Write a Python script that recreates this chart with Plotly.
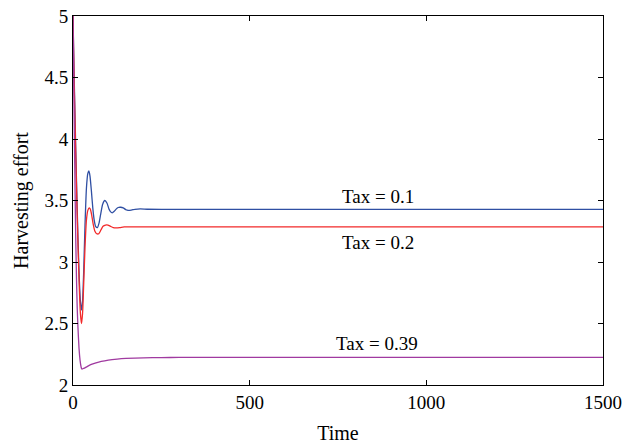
import plotly.graph_objects as go

# Time samples (shared) and series values
t_blue = [0, 3, 6, 10, 14, 18, 21, 24, 27, 30, 34, 38, 42, 45, 48, 52, 56, 60, 64, 69, 74, 79, 84, 90, 96, 102, 106, 111, 116, 122, 128, 135, 142, 150, 156, 165, 175, 190, 210, 250, 300, 400, 600, 1000, 1500]
e_blue = [5.0, 4.55, 4.15, 3.65, 3.2, 2.85, 2.68, 2.61, 2.68, 2.9, 3.3, 3.6, 3.72, 3.74, 3.7, 3.58, 3.44, 3.34, 3.29, 3.28, 3.32, 3.40, 3.47, 3.50, 3.48, 3.43, 3.41, 3.40, 3.41, 3.43, 3.443, 3.445, 3.44, 3.425, 3.42, 3.422, 3.428, 3.432, 3.429, 3.428, 3.428, 3.428, 3.428, 3.428, 3.428]

t_red = [0, 3, 6, 10, 14, 18, 21, 24, 27, 30, 34, 38, 42, 46, 49, 53, 57, 62, 67, 73, 79, 85, 92, 99, 106, 114, 122, 132, 145, 160, 180, 220, 300, 500, 1000, 1500]
e_red = [5.0, 4.5, 4.1, 3.6, 3.15, 2.78, 2.58, 2.50, 2.58, 2.8, 3.12, 3.34, 3.42, 3.44, 3.43, 3.38, 3.31, 3.25, 3.23, 3.23, 3.26, 3.29, 3.30, 3.30, 3.29, 3.28, 3.278, 3.28, 3.285, 3.286, 3.285, 3.285, 3.285, 3.285, 3.285, 3.285]

t_purple = [0, 2, 4, 6, 8, 10, 12, 14, 17, 20, 23, 25, 30, 40, 50, 65, 80, 100, 125, 150, 200, 250, 300, 400, 600, 1000, 1500]
e_purple = [5.0, 4.5, 4.0, 3.55, 3.15, 2.85, 2.62, 2.47, 2.3, 2.2, 2.145, 2.13, 2.135, 2.15, 2.165, 2.18, 2.192, 2.203, 2.211, 2.216, 2.221, 2.223, 2.224, 2.225, 2.225, 2.225, 2.225]

x_ticks = [0, 500, 1000, 1500]
y_ticks = [2, 2.5, 3, 3.5, 4, 4.5, 5]
y_tick_labels = ["2", "2.5", "3", "3.5", "4", "4.5", "5"]

labels = ["Tax = 0.1", "Tax = 0.2", "Tax = 0.39"]
label_x = [862, 862, 860]
label_y = [3.535, 3.16, 2.34]

FONT = "Liberation Serif"

fig = go.Figure()
fig.add_trace(go.Scatter(x=t_blue, y=e_blue, mode="lines", line=dict(color="#2f4fa3", width=1.3, shape="spline", smoothing=0.6), showlegend=False))
fig.add_trace(go.Scatter(x=t_red, y=e_red, mode="lines", line=dict(color="#f22a2a", width=1.3, shape="spline", smoothing=0.6), showlegend=False))
fig.add_trace(go.Scatter(x=t_purple, y=e_purple, mode="lines", line=dict(color="#a03aa0", width=1.3, shape="spline", smoothing=0.6), showlegend=False))

for txt, xx, yy in zip(labels, label_x, label_y):
    fig.add_annotation(x=xx, y=yy, text=txt, showarrow=False, font=dict(family=FONT, size=19, color="black"))

axis_common = dict(showline=True, linecolor="black", linewidth=1, mirror="ticks",
                   ticks="inside", ticklen=5, tickcolor="black", showgrid=False, zeroline=False,
                   automargin=False,
                   tickfont=dict(family=FONT, size=19, color="black"))

fig.update_layout(
    width=624, height=447,
    font=dict(family=FONT, color="black"),
    margin=dict(l=73, r=21, t=16, b=62),
    paper_bgcolor="white", plot_bgcolor="white",
    xaxis=dict(range=[0, 1500], tickvals=x_ticks, title=dict(text="Time", font=dict(family=FONT, size=20, color="black"), standoff=14), **axis_common),
    yaxis=dict(range=[2, 5], tickvals=y_ticks, ticktext=y_tick_labels, title=dict(text="Harvesting effort", font=dict(family=FONT, size=20, color="black"), standoff=10), **axis_common),
)

fig.write_html("out.html")
